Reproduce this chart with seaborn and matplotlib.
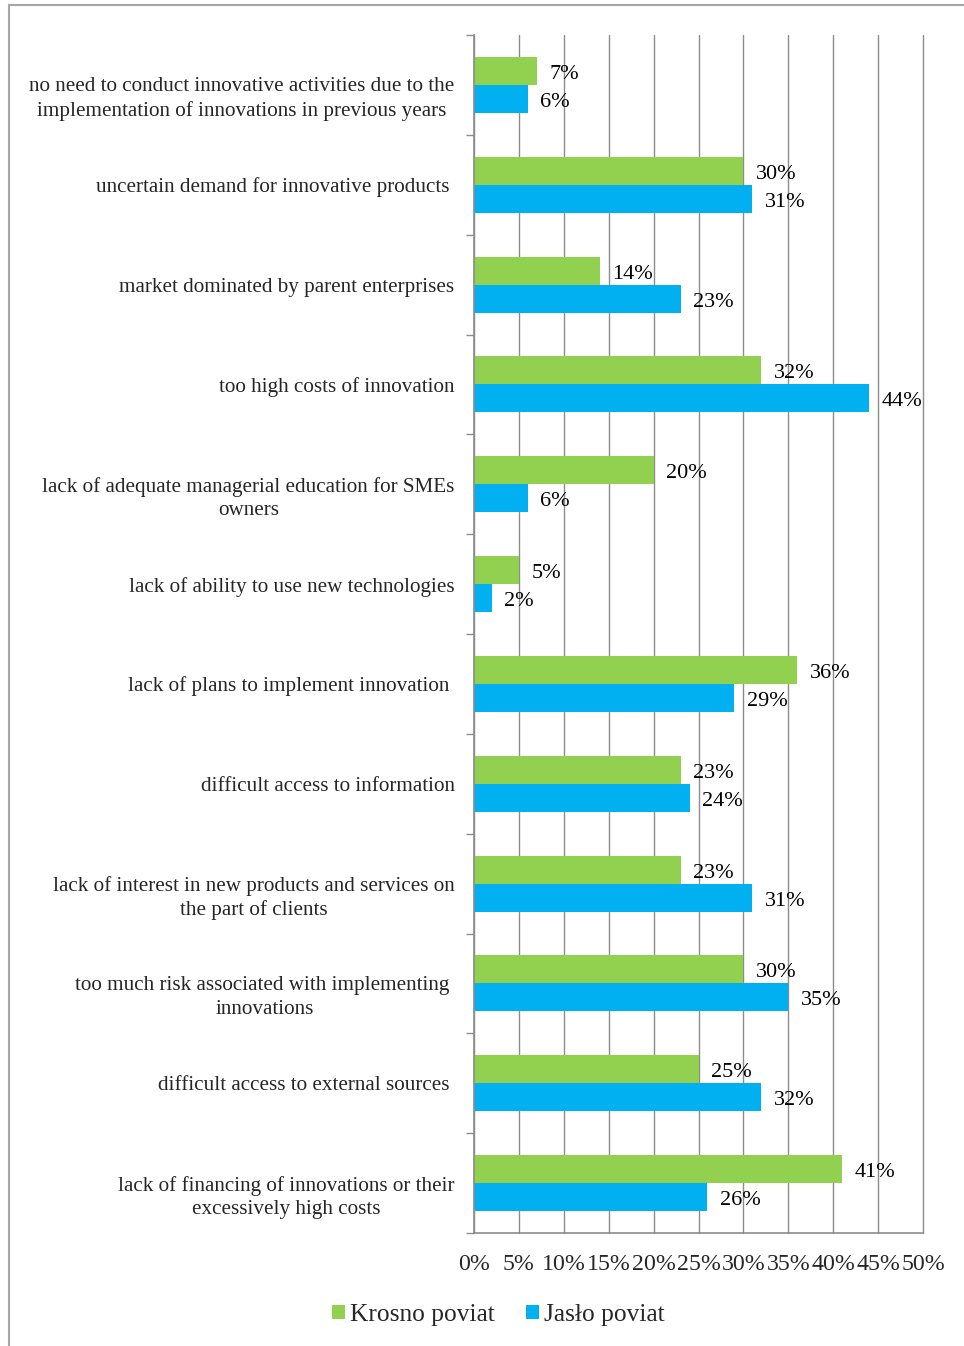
import matplotlib
matplotlib.use("Agg")
import matplotlib.pyplot as plt
from matplotlib.lines import Line2D
from matplotlib.transforms import ScaledTranslation
import seaborn as sns
import pandas as pd
import numpy as np

# Barriers to innovation, share of enterprises (%)
categories = [
    "no need to conduct innovative activities due to the\nimplementation of innovations in previous years",
    "uncertain demand for innovative products ",
    "market dominated by parent enterprises",
    "too high costs of innovation",
    "lack of adequate managerial education for SMEs\nowners",
    "lack of ability to use new technologies",
    "lack of plans to implement innovation ",
    "difficult access to information",
    "lack of interest in new products and services on\nthe part of clients",
    "too much risk associated with implementing \ninnovations",
    "difficult access to external sources ",
    "lack of financing of innovations or their\nexcessively high costs",
]
krosno = [7, 30, 14, 32, 20, 5, 36, 23, 23, 30, 25, 41]
jaslo = [6, 31, 23, 44, 6, 2, 29, 24, 31, 35, 32, 26]
series_names = ["Krosno poviat", "Jasło poviat"]
series_colors = ["#92D050", "#00B0F0"]
x_ticks = [0, 5, 10, 15, 20, 25, 30, 35, 40, 45, 50]

df = pd.DataFrame({
    "barrier": categories * 2,
    "share": krosno + jaslo,
    "district": [series_names[0]] * len(categories) + [series_names[1]] * len(categories),
})

sns.set_theme(style="white")
plt.rcParams["font.family"] = ["Liberation Serif", "DejaVu Serif"]

grid_col = "#8C8C8C"

fig = plt.figure(figsize=(9.64, 13.46), dpi=100)
ax = fig.add_axes([474 / 964, 1 - 1233 / 1346, (923 - 474) / 964, (1233 - 35) / 1346])

sns.barplot(
    data=df, y="barrier", x="share", hue="district",
    order=categories, hue_order=series_names, palette=series_colors,
    orient="h", width=0.56, saturation=1, ax=ax, legend=True,
    linewidth=0,
)

# value labels to the right of each bar, nudged slightly downward
for cont in ax.containers:
    anns = ax.bar_label(cont, fmt="%d%%", padding=9, fontsize=16, color="black")
    for a in anns:
        a.xyann = (9, -2.5)

ax.set_xlim(0, 50)
ax.set_ylim(len(categories) - 0.5, -0.5)
ax.set_xticks(x_ticks)
ax.set_xticklabels([f"{t}%" for t in x_ticks], fontsize=17.2)
ax.tick_params(axis="x", length=7, width=1, color=grid_col, pad=8)
ax.set_yticks(np.arange(len(categories)))
ax.set_yticklabels(categories, fontsize=15.2, multialignment="center", linespacing=1.32)
ax.tick_params(axis="y", length=0, pad=14)
ax.set_yticks(np.arange(len(categories) + 1) - 0.5, minor=True)
ax.tick_params(axis="y", which="minor", length=6, width=1, color=grid_col, left=True)
ax.set_xlabel("")
ax.set_ylabel("")

# two-line category names sit with their first line on the category centre
shift = ScaledTranslation(0, -0.095, fig.dpi_scale_trans)
for tick in ax.yaxis.get_major_ticks():
    if "\n" in tick.label1.get_text():
        tick.label1.set_transform(tick.label1.get_transform() + shift)

ax.grid(axis="x", color=grid_col, linewidth=1, clip_on=False)
ax.set_axisbelow(True)
for side in ["top", "right"]:
    ax.spines[side].set_visible(False)
for side in ["left", "bottom"]:
    ax.spines[side].set_color(grid_col)
    ax.spines[side].set_linewidth(1.2)

handles, labels = ax.get_legend_handles_labels()
ax.get_legend().remove()
fig.legend(
    handles, labels, loc="center", bbox_to_anchor=(0.517, 1 - 1315 / 1346),
    ncol=2, frameon=False, fontsize=18.3, handlelength=0.5, handleheight=0.5,
    handletextpad=0.2, columnspacing=1.25,
)

# outer frame lines
fig.add_artist(Line2D([9 / 964, 9 / 964], [0, 1 - 5 / 1346], transform=fig.transFigure,
                      color="#A6A6A6", linewidth=1.5))
fig.add_artist(Line2D([9 / 964, 1], [1 - 5 / 1346, 1 - 5 / 1346], transform=fig.transFigure,
                      color="#A6A6A6", linewidth=1.5))

fig.savefig("out.png", dpi=100, facecolor="white")
